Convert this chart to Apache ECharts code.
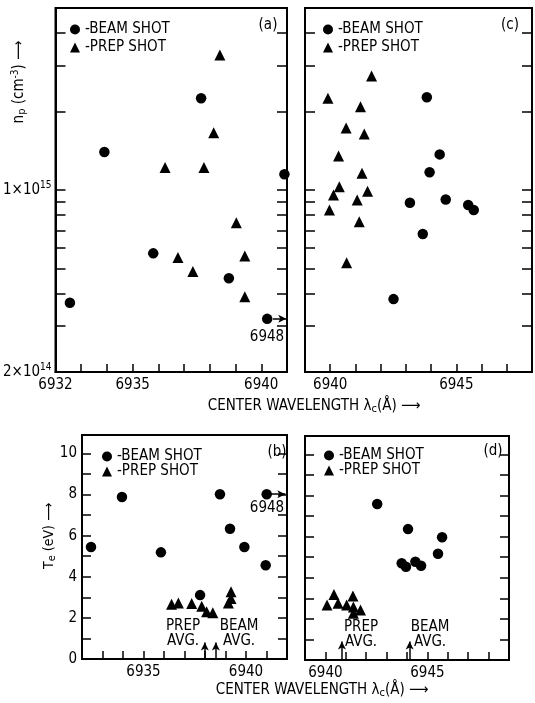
<!DOCTYPE html>
<html>
<head>
<meta charset="utf-8">
<script src="https://cdn.jsdelivr.net/npm/echarts@6/dist/echarts.min.js"></script>
<style>html,body{margin:0;padding:0;background:#fff}#c{width:535px;height:703px}</style>
</head>
<body>
<div id="c"></div>
<script>
// ---------- DATA ----------
// Panel (a): density vs wavelength, first setting
const aBeamX = [6932.56, 6933.90, 6935.80, 6937.66, 6938.74, 6940.23, 6940.90];
const aBeamN = [3.69e14, 1.40e15, 5.71e14, 2.25e15, 4.58e14, 3.20e14, 1.15e15];
const aPrepX = [6936.26, 6936.76, 6937.34, 6937.77, 6938.15, 6938.39, 6939.03, 6939.36, 6939.36];
const aPrepN = [1.22e15, 5.50e14, 4.86e14, 1.22e15, 1.66e15, 3.30e15, 7.49e14, 5.58e14, 3.89e14];
// Panel (c)
const cBeamX = [6942.51, 6943.16, 6943.67, 6943.83, 6943.94, 6944.34, 6944.58, 6945.47, 6945.69];
const cBeamN = [3.81e14, 8.94e14, 6.78e14, 2.27e15, 1.17e15, 1.37e15, 9.20e14, 8.76e14, 8.38e14];
const cPrepX = [6939.91, 6939.97, 6940.13, 6940.33, 6940.36, 6940.63, 6940.65, 6941.07, 6941.15, 6941.20, 6941.26, 6941.35, 6941.48, 6941.64];
const cPrepN = [2.25e15, 8.38e14, 9.57e14, 1.35e15, 1.03e15, 1.73e15, 5.26e14, 9.15e14, 7.55e14, 2.09e15, 1.16e15, 1.64e15, 0.99e15, 2.74e15];
// Panel (b): Te vs wavelength
const bBeamX = [6932.44, 6933.95, 6935.85, 6937.76, 6938.73, 6939.22, 6939.92, 6940.96, 6941.01];
const bBeamT = [5.45, 7.88, 5.19, 3.11, 8.02, 6.34, 5.45, 4.56, 8.02];
const bPrepX = [6936.37, 6936.70, 6937.35, 6937.84, 6938.08, 6938.38, 6939.14, 6939.27, 6939.27];
const bPrepT = [2.66, 2.73, 2.70, 2.57, 2.30, 2.25, 2.73, 3.27, 2.95];
// Panel (d)
const dBeamX = [6942.54, 6943.74, 6943.95, 6944.05, 6944.41, 6944.69, 6945.52, 6945.72];
const dBeamT = [7.59, 4.71, 4.54, 6.37, 4.78, 4.59, 5.17, 5.97];
const dPrepX = [6940.08, 6940.42, 6940.62, 6941.04, 6941.35, 6941.37, 6941.37, 6941.72];
const dPrepT = [2.68, 3.19, 2.76, 2.68, 3.11, 2.58, 2.27, 2.43];
// Averages (arrows on the Te panels)
const bAvg = [6937.99, 6938.53];   // PREP avg, BEAM avg
const dAvg = [6940.81, 6944.13];
// Off-scale point (6948 A) arrows: [x from, x to, y]
const aOff = [6940.45, 6940.97, 3.20e14];
const bOff = [6941.22, 6941.92, 8.02];
// Axis ranges & tick labels
const abXRange = [6932, 6941], cXRange = [6939, 6948];
const bXRange = [6932, 6942], dXRange = [6939, 6949];
const aXLabels = [6932, 6935, 6940], cXLabels = [6940, 6945];
const bXLabels = [6935, 6940], dXLabels = [6940, 6945];
const nRange = [2e14, 5e15];
const nTicks = [3e14, 4e14, 5e14, 6e14, 7e14, 8e14, 9e14, 1e15, 2e15, 3e15, 4e15];
const nLabels = [2e14, 1e15];
const tRange = [0, 10.9];
const tLabels = [0, 2, 4, 6, 8, 10];

// ---------- CHART ----------
const FONT = "'DejaVu Sans Condensed','DejaVu Sans',sans-serif";
const zip = (xs, ys) => xs.map((x, i) => [x, ys[i]]);
const chart = echarts.init(document.getElementById('c'), null, {renderer: 'canvas'});

const gridStyle = {show: true, borderColor: '#000', borderWidth: 2, backgroundColor: 'transparent'};
const line = {show: true, lineStyle: {color: '#000', width: 2}};

function xAx(gi, r, labels) {
  return {
    gridIndex: gi, type: 'value', min: r[0], max: r[1], interval: 1,
    axisLine: line,
    axisTick: {show: true, inside: true, length: 8, lineStyle: {color: '#000', width: 1.5}},
    axisLabel: {color: '#000', fontFamily: FONT, fontSize: 15, margin: 6,
      formatter: v => labels.indexOf(v) >= 0 ? String(v) : ''},
    splitLine: {show: false}
  };
}
const L = v => Math.log10(v);
function logTickAx(gi, pos, withLabels) {
  return {
    gridIndex: gi, type: 'value', position: pos, min: L(nRange[0]), max: L(nRange[1]),
    axisLine: line,
    axisTick: {show: true, inside: true, length: 10, customValues: nTicks.map(L), lineStyle: {color: '#000', width: 1.5}},
    axisLabel: {show: withLabels, customValues: nLabels.map(L), color: '#000', fontFamily: FONT, fontSize: 15, margin: 4,
      formatter: v => {
        const e = Math.floor(v + 1e-9);
        const m = Math.round(Math.pow(10, v - e));
        return m + '×10{s|' + e + '}';
      },
      rich: {s: {fontSize: 10, fontFamily: FONT, padding: [0, 0, 9, 0]}}},
    splitLine: {show: false}
  };
}
function logDataAx(gi) {
  return {gridIndex: gi, type: 'log', logBase: 10, min: nRange[0], max: nRange[1],
    axisLine: {show: false}, axisTick: {show: false}, axisLabel: {show: false}, splitLine: {show: false}};
}
function tAx(gi, pos, withLabels) {
  return {
    gridIndex: gi, type: 'value', position: pos, min: tRange[0], max: tRange[1], interval: 1,
    axisLine: line,
    axisTick: {show: true, inside: true, length: 9, lineStyle: {color: '#000', width: 1.5}},
    axisLabel: {show: withLabels, color: '#000', fontFamily: FONT, fontSize: 15, margin: 5,
      formatter: v => tLabels.indexOf(v) >= 0 ? String(v) : ''},
    splitLine: {show: false}
  };
}

const beamStyle = {symbol: 'circle', symbolSize: 10.5, itemStyle: {color: '#000', opacity: 1}};
const prepStyle = {symbol: 'triangle', symbolSize: 11, itemStyle: {color: '#000', opacity: 1}};
function arrowLine(pairs) {
  return {silent: true, symbol: ['none', 'arrow'], symbolSize: [6, 8], label: {show: false},
    lineStyle: {color: '#000', width: 1.5, type: 'solid', opacity: 1}, animation: false,
    data: pairs.map(p => [{coord: p[0]}, {coord: p[1]}])};
}
function sc(name, xi, yi, data, style, extra) {
  return Object.assign({type: 'scatter', name, xAxisIndex: xi, yAxisIndex: yi, data, z: 5}, style, extra || {});
}

function legend(left, top, gap) {
  return {left, top, orient: 'vertical', itemWidth: 10, itemHeight: 10, itemGap: gap, selectedMode: false,
    textStyle: {fontFamily: FONT, fontSize: 15, color: '#000', lineHeight: 15},
    itemStyle: {opacity: 1},
    formatter: '-{name}',
    data: [{name: 'BEAM SHOT', icon: 'circle'}, {name: 'PREP SHOT', icon: 'triangle'}]};
}

function txt(x, y, text, opts) {
  return Object.assign({type: 'text', x, y, silent: true, z: 10,
    style: Object.assign({text, fill: '#000', font: '15px ' + FONT, align: 'center', verticalAlign: 'middle'}, (opts && opts.style) || {})},
    opts && opts.rot ? {rotation: opts.rot} : {});
}
const richSub = {sub: {fontSize: 11, fontFamily: FONT, padding: [6, 0, 0, 0]}, sup: {fontSize: 10, fontFamily: FONT, padding: [0, 0, 8, 0]}};

const option = {
  animation: false,
  backgroundColor: '#fff',
  grid: [
    Object.assign({left: 51, top: 8, width: 236, height: 364}, gridStyle),
    Object.assign({left: 305, top: 8, width: 233, height: 364}, gridStyle),
    Object.assign({left: 82, top: 435, width: 205, height: 224}, gridStyle),
    Object.assign({left: 305, top: 436, width: 204, height: 224}, gridStyle)
  ],
  xAxis: [xAx(0, abXRange, aXLabels), xAx(1, cXRange, cXLabels), xAx(2, bXRange, bXLabels), xAx(3, dXRange, dXLabels)],
  yAxis: [
    logDataAx(0), logTickAx(0, 'left', true), logTickAx(0, 'right', false),
    logDataAx(1), logTickAx(1, 'left', false), logTickAx(1, 'right', false),
    tAx(2, 'left', true), tAx(2, 'right', false),
    tAx(3, 'left', false), tAx(3, 'right', false)
  ],
  legend: [legend(65, 17, 3), legend(318, 17, 3), legend(97, 444, 0), legend(319, 443, 0)],
  series: [
    sc('BEAM SHOT', 0, 0, zip(aBeamX, aBeamN), beamStyle,
       {markLine: arrowLine([[[aOff[0], aOff[2]], [aOff[1], aOff[2]]]])}),
    sc('PREP SHOT', 0, 0, zip(aPrepX, aPrepN), prepStyle),
    sc('BEAM SHOT', 1, 3, zip(cBeamX, cBeamN), beamStyle),
    sc('PREP SHOT', 1, 3, zip(cPrepX, cPrepN), prepStyle),
    sc('BEAM SHOT', 2, 6, zip(bBeamX, bBeamT), beamStyle,
       {markLine: arrowLine([[[bOff[0], bOff[2]], [bOff[1], bOff[2]]], [[bAvg[0], 0], [bAvg[0], 0.8]], [[bAvg[1], 0], [bAvg[1], 0.8]]])}),
    sc('PREP SHOT', 2, 6, zip(bPrepX, bPrepT), prepStyle),
    sc('BEAM SHOT', 3, 8, zip(dBeamX, dBeamT), beamStyle,
       {markLine: arrowLine([[[dAvg[0], 0], [dAvg[0], 0.9]], [[dAvg[1], 0], [dAvg[1], 0.9]]])}),
    sc('PREP SHOT', 3, 8, zip(dPrepX, dPrepT), prepStyle)
  ],
  graphic: [
    txt(19, 82, 'n{sub|p} (cm{sup|-3}) ⟶', {rot: Math.PI / 2, style: {rich: richSub}}),
    txt(49, 536, 'T{sub|e} (eV) ⟶', {rot: Math.PI / 2, style: {rich: richSub, font: '14px ' + FONT}}),
    txt(314, 406, 'CENTER WAVELENGTH λ{sub|c}(Å) ⟶', {style: {rich: richSub}}),
    txt(322, 690, 'CENTER WAVELENGTH λ{sub|c}(Å) ⟶', {style: {rich: richSub}}),
    txt(268, 25, '(a)'), txt(510, 25, '(c)'), txt(277, 452, '(b)'), txt(493, 451, '(d)'),
    txt(267, 337, '6948'), txt(267, 508, '6948'),
    txt(183, 634, 'PREP\nAVG.', {style: {lineHeight: 15}}),
    txt(239, 634, 'BEAM\nAVG.', {style: {lineHeight: 15}}),
    txt(361, 635, 'PREP\nAVG.', {style: {lineHeight: 15}}),
    txt(430, 635, 'BEAM\nAVG.', {style: {lineHeight: 15}})
  ]
};
chart.setOption(option);
</script>
</body>
</html>
